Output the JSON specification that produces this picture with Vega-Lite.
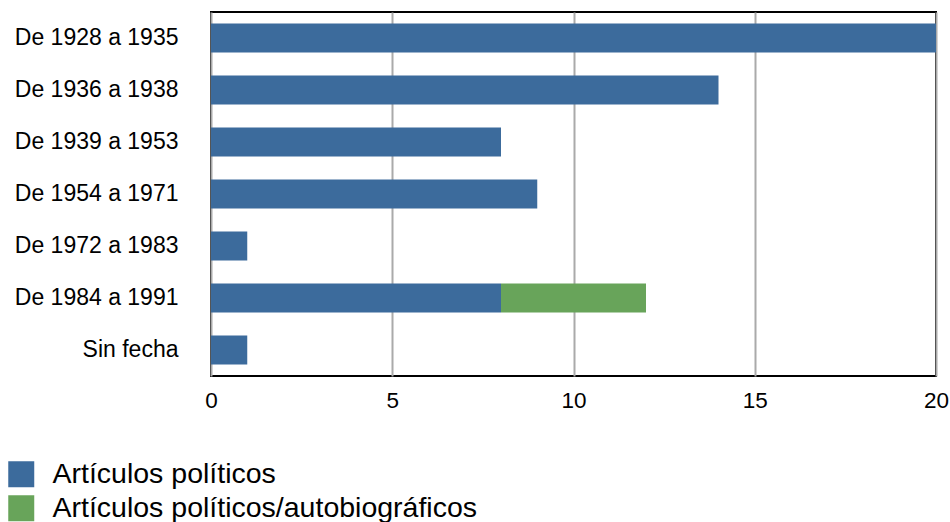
{
  "$schema": "https://vega.github.io/schema/vega-lite/v6.json",
  "autosize": "none",
  "width": 725,
  "height": 364,
  "padding": {"left": 211, "top": 12, "right": 14, "bottom": 146},
  "background": "white",
  "data": {"values": [
    {"periodo": "De 1928 a 1935", "tipo": "Artículos políticos", "orden": 1, "n": 20},
    {"periodo": "De 1936 a 1938", "tipo": "Artículos políticos", "orden": 1, "n": 14},
    {"periodo": "De 1939 a 1953", "tipo": "Artículos políticos", "orden": 1, "n": 8},
    {"periodo": "De 1954 a 1971", "tipo": "Artículos políticos", "orden": 1, "n": 9},
    {"periodo": "De 1972 a 1983", "tipo": "Artículos políticos", "orden": 1, "n": 1},
    {"periodo": "De 1984 a 1991", "tipo": "Artículos políticos", "orden": 1, "n": 8},
    {"periodo": "De 1984 a 1991", "tipo": "Artículos políticos/autobiográficos", "orden": 2, "n": 4},
    {"periodo": "Sin fecha", "tipo": "Artículos políticos", "orden": 1, "n": 1}
  ]},
  "config": {
    "view": {"stroke": "black", "strokeWidth": 2},
    "font": "Liberation Sans"
  },
  "mark": {"type": "bar"},
  "encoding": {
    "y": {
      "field": "periodo", "type": "nominal",
      "sort": ["De 1928 a 1935", "De 1936 a 1938", "De 1939 a 1953", "De 1954 a 1971", "De 1972 a 1983", "De 1984 a 1991", "Sin fecha"],
      "scale": {"paddingInner": 0.44, "paddingOuter": 0.22},
      "axis": {"title": null, "domain": false, "ticks": false, "labelFontSize": 23, "labelPadding": 33, "labelColor": "black", "grid": false, "labelLimit": 300}
    },
    "x": {
      "field": "n", "type": "quantitative", "stack": "zero",
      "scale": {"domain": [0, 20], "nice": false},
      "axis": {"title": null, "values": [0, 5, 10, 15, 20], "domain": false, "ticks": false, "labelFontSize": 22.5, "labelPadding": 13, "labelColor": "black", "grid": true, "gridColor": "#aaaaaa", "gridWidth": 2, "labelFlush": false}
    },
    "color": {
      "field": "tipo", "type": "nominal",
      "scale": {"domain": ["Artículos políticos", "Artículos políticos/autobiográficos"], "range": ["#3c6b9c", "#68a45a"]},
      "legend": {"title": null, "orient": "none", "legendX": -204, "legendY": 448, "symbolType": "square", "symbolSize": 676, "symbolStrokeWidth": 0, "symbolOpacity": 1, "labelFontSize": 28.5, "labelColor": "black", "labelOffset": 17, "rowPadding": 5, "labelLimit": 700}
    },
    "order": {"field": "orden", "type": "quantitative"}
  }
}
